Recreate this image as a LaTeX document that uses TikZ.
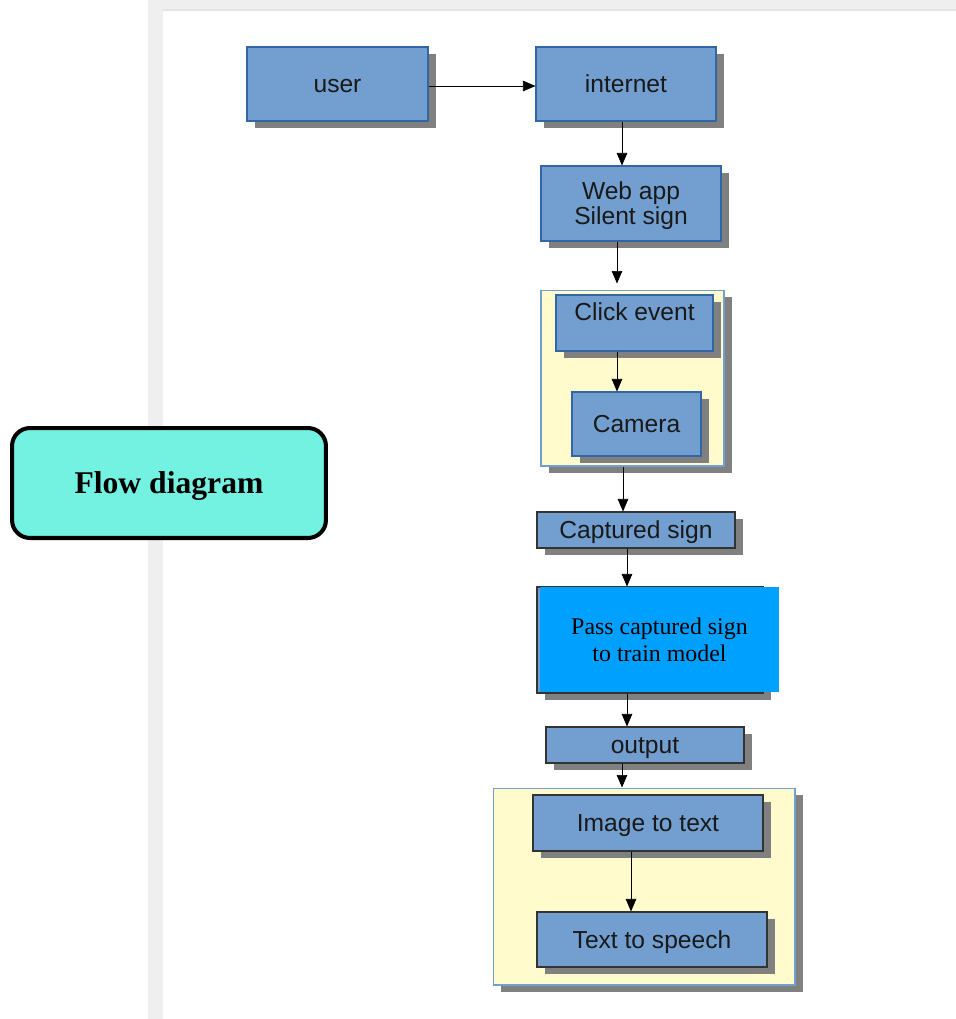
\documentclass[tikz,border=0pt]{standalone}
\usepackage{fontspec}
\setmainfont{Liberation Serif}
\setsansfont{Liberation Sans}
\usetikzlibrary{arrows.meta,shadows}
\definecolor{boxblue}{HTML}{729FCF}
\definecolor{edgeblue}{HTML}{3465A4}
\definecolor{shade}{HTML}{808080}
\definecolor{paleyellow}{HTML}{FFFBCC}
\definecolor{brightblue}{HTML}{00A0FF}
\definecolor{aqua}{HTML}{73F2E2}
\definecolor{framegray}{HTML}{EFEFEF}
\tikzset{
  boxshadow/.style={drop shadow={shadow xshift=0.16cm,shadow yshift=-0.14cm,fill=shade,opacity=1}},
  stepnode/.style={rectangle,draw=edgeblue,fill=boxblue,line width=0.6pt,inner sep=0pt,
    font=\sffamily\fontsize{14}{14}\selectfont,text=black!90,text height=12.7pt,text depth=3pt,boxshadow},
  darknode/.style={stepnode,draw=black!80},
  groupbox/.style={rectangle,draw=boxblue,fill=paleyellow,line width=0.6pt,inner sep=0pt,boxshadow},
}
\begin{document}
\begin{tikzpicture}[x=0.02cm,y=-0.02cm,>={Triangle[length=0.25cm,width=0.21cm]}]
  \fill[white] (0,0) rectangle (956,1019);
  \useasboundingbox (0,0) rectangle (956,1019);
  % page frame
  \fill[framegray] (148,0) rectangle (956,9);
  \fill[framegray] (148,0) rectangle (163,1019);
  \draw[black!10,line width=0.8pt] (163,10) -- (956,10);

  \node[stepnode,minimum width=3.62cm,minimum height=1.48cm] (user) at (337.5,84) {user};
  \node[stepnode,minimum width=3.6cm,minimum height=1.48cm] (internet) at (626,84) {internet};
  \node[stepnode,minimum width=3.6cm,minimum height=1.5cm,align=center,text height=26.4pt] (webapp) at (631,203.5) {Web app\\Silent sign};

  \node[groupbox,minimum width=3.66cm,minimum height=3.52cm] (grpcam) at (632.5,378) {};
  \node[stepnode,minimum width=3.14cm,minimum height=1.12cm,text depth=0.56cm] (click) at (634.5,323) {Click event};
  \node[stepnode,minimum width=2.58cm,minimum height=1.28cm] (camera) at (636.5,424) {Camera};

  \node[darknode,minimum width=3.96cm,minimum height=0.72cm] (captured) at (636,530) {Captured sign};
  \node[darknode,minimum width=4.52cm,minimum height=2.12cm] (passbase) at (650,640) {};
  \node[rectangle,fill=brightblue,inner sep=0pt,minimum width=4.78cm,minimum height=2.1cm,
    align=center,font=\fontsize{13.6}{15.4}\selectfont] (pass) at (659.5,639.5) {Pass captured sign\\to train model};
  \node[darknode,minimum width=3.96cm,minimum height=0.72cm] (output) at (645,745) {output};

  \node[groupbox,minimum width=6.04cm,minimum height=3.94cm] (grpout) at (644,886.5) {};
  \node[darknode,minimum width=4.6cm,minimum height=1.12cm] (imgtxt) at (648,823) {Image to text};
  \node[darknode,minimum width=4.6cm,minimum height=1.1cm] (txtspeech) at (652,939.5) {Text to speech};

  \node[rectangle,rounded corners=0.36cm,draw=black,line width=2.3pt,fill=aqua,
    minimum width=6.28cm,minimum height=2.2cm,text height=16pt,text depth=3.9pt,
    font=\bfseries\fontsize{18}{20}\selectfont] (flow) at (169,483) {Flow diagram};

  \draw[->] (user.east |- 0,86) -- (internet.west |- 0,86);
  \draw[->] (internet.south -| 622,0) -- (webapp.north -| 622,0);
  \draw[->,shorten >=0.12cm] (webapp.south -| 617,0) -- (grpcam.north -| 617,0);
  \draw[->] (click.south -| 617,0) -- (camera.north -| 617,0);
  \draw[->] (grpcam.south -| 623,0) -- (captured.north -| 623,0);
  \draw[->] (captured.south -| 627,0) -- (passbase.north -| 627,0);
  \draw[->] (passbase.south -| 627,0) -- (output.north -| 627,0);
  \draw[->] (output.south -| 622,0) -- (grpout.north -| 622,0);
  \draw[->] (imgtxt.south -| 631,0) -- (txtspeech.north -| 631,0);
\end{tikzpicture}
\end{document}
